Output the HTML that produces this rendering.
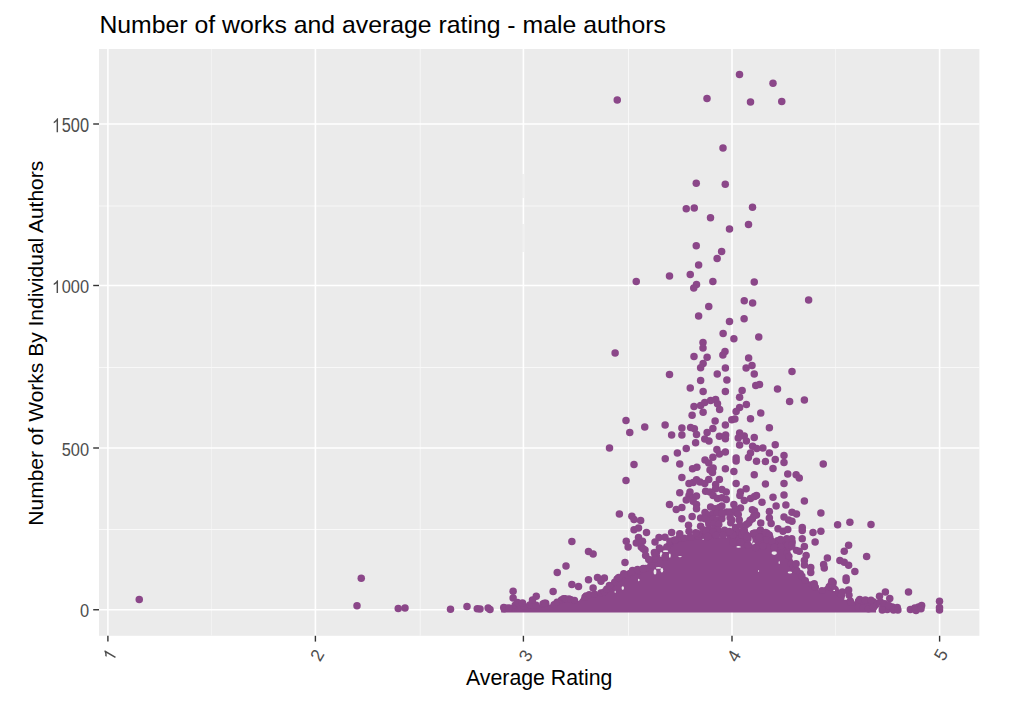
<!DOCTYPE html>
<html><head><meta charset="utf-8"><title>Number of works and average rating - male authors</title>
<style>
html,body{margin:0;padding:0;background:#fff;}
body{width:1024px;height:705px;overflow:hidden;position:relative;font-family:"Liberation Sans",sans-serif;}
svg{position:absolute;left:0;top:0;}
text{font-family:"Liberation Sans",sans-serif;}
</style></head><body>
<svg width="1024" height="705" viewBox="0 0 1024 705">
<rect x="0" y="0" width="1024" height="705" fill="#ffffff"/>
<rect x="99" y="49" width="880.4" height="586.8" fill="#ebebeb"/>
<g stroke-width="1">
<line x1="211.5" y1="49" x2="211.5" y2="635.8" stroke="#f2f2f2"/>
<line x1="420.25" y1="49" x2="420.25" y2="635.8" stroke="#f6f6f6"/>
<line x1="628.5" y1="49" x2="628.5" y2="635.8" stroke="#f8f8f8"/>
<line x1="835.5" y1="49" x2="835.5" y2="635.8" stroke="#f4f4f4"/>
<line x1="99" y1="206.0" x2="979.4" y2="206.0" stroke="#f7f7f7"/>
<line x1="99" y1="367.5" x2="979.4" y2="367.5" stroke="#f8f8f8"/>
<line x1="99" y1="529.5" x2="979.4" y2="529.5" stroke="#f9f9f9"/>
</g>
<g stroke="#ffffff" stroke-width="1.6">
<line x1="107.90" y1="49" x2="107.90" y2="635.8"/>
<line x1="315.40" y1="49" x2="315.40" y2="635.8"/>
<line x1="523.40" y1="49" x2="523.40" y2="635.8"/>
<line x1="732.00" y1="49" x2="732.00" y2="635.8"/>
<line x1="939.60" y1="49" x2="939.60" y2="635.8"/>
<line x1="99" y1="609.75" x2="979.4" y2="609.75"/>
<line x1="99" y1="448.00" x2="979.4" y2="448.00"/>
<line x1="99" y1="285.50" x2="979.4" y2="285.50"/>
<line x1="99" y1="124.00" x2="979.4" y2="124.00"/>
</g>
<rect x="522.3" y="174" width="2.6" height="24" fill="#ebebeb"/><line x1="523.8" y1="174" x2="523.8" y2="198" stroke="#f3f3f3" stroke-width="1.3"/>
<rect x="522.3" y="224" width="2.6" height="28" fill="#ebebeb"/><line x1="523.8" y1="224" x2="523.8" y2="252" stroke="#f3f3f3" stroke-width="1.3"/>
<g stroke="#333333" stroke-width="1.4">
<line x1="107.90" y1="635.8" x2="107.90" y2="641.5999999999999"/>
<line x1="315.40" y1="635.8" x2="315.40" y2="641.5999999999999"/>
<line x1="523.40" y1="635.8" x2="523.40" y2="641.5999999999999"/>
<line x1="732.00" y1="635.8" x2="732.00" y2="641.5999999999999"/>
<line x1="939.60" y1="635.8" x2="939.60" y2="641.5999999999999"/>
<line x1="93.2" y1="609.75" x2="99" y2="609.75"/>
<line x1="93.2" y1="448.00" x2="99" y2="448.00"/>
<line x1="93.2" y1="285.50" x2="99" y2="285.50"/>
<line x1="93.2" y1="124.00" x2="99" y2="124.00"/>
</g>
<g fill="#4d4d4d" font-size="16.4" text-anchor="end">
<text transform="translate(89.0,610.95) scale(1,1.08)" x="0" y="5.9">0</text>
<text transform="translate(89.0,449.20) scale(1,1.08)" x="0" y="5.9">500</text>
<g transform="translate(89.0,286.70) scale(1,1.08)"><text x="0" y="5.9">000</text><path transform="translate(-37.07,5.90) scale(0.008008,-0.008008)" d="M763 0H583V1147Q518 1085 412.5 1023T223 930V1104Q374 1175 487 1276T647 1472H763V0Z"/></g>
<g transform="translate(89.0,125.20) scale(1,1.2)"><text x="0" y="5.9">500</text><path transform="translate(-37.07,5.90) scale(0.008008,-0.008008)" d="M763 0H583V1147Q518 1085 412.5 1023T223 930V1104Q374 1175 487 1276T647 1472H763V0Z"/></g>
</g>
<g fill="#4d4d4d" font-size="16.4" text-anchor="middle">
<g transform="translate(109.50,655.00) rotate(-60) scale(1.08)"><path transform="translate(-4.56,5.90) scale(0.008008,-0.008008)" d="M763 0H583V1147Q518 1085 412.5 1023T223 930V1104Q374 1175 487 1276T647 1472H763V0Z"/></g>
<text transform="translate(317.00,655.00) rotate(-60) scale(1.08)" x="0" y="5.9">2</text>
<text transform="translate(525.50,655.50) rotate(-60) scale(1.08)" x="0" y="5.9">3</text>
<text transform="translate(733.60,655.70) rotate(-60) scale(1.08)" x="0" y="5.9">4</text>
<text transform="translate(940.60,654.60) rotate(-60) scale(1.08)" x="0" y="5.9">5</text>
</g>
<text x="99.4" y="33.3" font-size="24.8" fill="#000000">Number of works and average rating - male authors</text>
<text x="539.2" y="685.2" font-size="21.3" fill="#000000" text-anchor="middle">Average Rating</text>
<text transform="translate(42.9,343.2) rotate(-90)" font-size="21.0" fill="#000000" text-anchor="middle">Number of Works By Individual Authors</text>
<clipPath id="pc"><rect x="99" y="49" width="880.4" height="586.8"/></clipPath>
<g fill="#8b4789" clip-path="url(#pc)">
<polygon points="501.2,610.2 503.8,607.4 511.2,607.2 515.0,603.7 522.5,603.7 527.5,604.7 531.2,602.2 538.8,604.7 545.0,602.2 550.0,604.7 555.0,601.0 561.2,598.4 567.5,597.2 573.8,598.4 578.8,601.0 582.5,596.0 587.5,592.2 596.2,593.4 600.0,592.2 607.5,586.0 615.0,578.4 630.0,571.0 647.5,566.0 652.5,556.0 658.8,551.0 665.0,544.7 670.0,539.7 675.0,537.2 695.0,536.0 703.8,531.6 716.2,531.0 720.0,533.4 728.0,531.2 743.0,531.7 750.5,533.2 756.8,531.7 769.2,533.2 774.2,539.7 794.2,539.7 795.5,548.4 790.0,551.0 793.0,561.0 799.2,569.7 804.2,576.0 810.5,582.2 816.8,584.7 819.2,591.0 824.2,587.2 831.8,581.6 838.0,587.2 839.2,591.0 845.5,594.7 844.2,599.7 850.5,599.7 856.0,602.2 876.0,603.2 876.0,612.6 501.2,612.6"/><circle cx="504.2" cy="609.0" r="3.6"/><circle cx="506.3" cy="608.0" r="3.6"/><circle cx="509.6" cy="608.4" r="3.6"/><circle cx="513.9" cy="607.5" r="3.6"/><circle cx="515.1" cy="605.0" r="3.6"/><circle cx="519.0" cy="604.4" r="3.6"/><circle cx="523.8" cy="606.0" r="3.6"/><circle cx="529.7" cy="604.8" r="3.6"/><circle cx="532.2" cy="605.0" r="3.6"/><circle cx="536.1" cy="605.2" r="3.6"/><circle cx="542.9" cy="603.9" r="3.6"/><circle cx="545.8" cy="603.2" r="3.6"/><circle cx="544.4" cy="603.0" r="3.6"/><circle cx="554.0" cy="604.7" r="3.6"/><circle cx="557.0" cy="602.0" r="3.6"/><circle cx="561.4" cy="599.8" r="3.6"/><circle cx="563.5" cy="598.6" r="3.6"/><circle cx="565.1" cy="598.6" r="3.6"/><circle cx="569.0" cy="598.8" r="3.6"/><circle cx="570.9" cy="599.5" r="3.6"/><circle cx="574.6" cy="600.3" r="3.6"/><circle cx="584.9" cy="597.2" r="3.6"/><circle cx="586.0" cy="595.8" r="3.6"/><circle cx="589.2" cy="594.6" r="3.6"/><circle cx="594.6" cy="594.2" r="3.6"/><circle cx="600.8" cy="592.8" r="3.6"/><circle cx="604.2" cy="591.8" r="3.6"/><circle cx="606.6" cy="589.2" r="3.6"/><circle cx="610.4" cy="586.4" r="3.6"/><circle cx="614.6" cy="582.0" r="3.6"/><circle cx="617.0" cy="578.8" r="3.6"/><circle cx="619.3" cy="578.3" r="3.6"/><circle cx="622.5" cy="576.4" r="3.6"/><circle cx="627.6" cy="574.9" r="3.6"/><circle cx="629.8" cy="573.3" r="3.6"/><circle cx="631.4" cy="572.5" r="3.6"/><circle cx="638.4" cy="571.1" r="3.6"/><circle cx="643.2" cy="568.4" r="3.6"/><circle cx="645.9" cy="568.3" r="3.6"/><circle cx="650.7" cy="565.3" r="3.6"/><circle cx="652.1" cy="561.2" r="3.6"/><circle cx="654.6" cy="558.8" r="3.6"/><circle cx="654.9" cy="555.9" r="3.6"/><circle cx="659.5" cy="553.7" r="3.6"/><circle cx="661.6" cy="551.0" r="3.6"/><circle cx="666.7" cy="546.9" r="3.6"/><circle cx="670.1" cy="543.5" r="3.6"/><circle cx="670.6" cy="541.7" r="3.6"/><circle cx="673.7" cy="540.4" r="3.6"/><circle cx="679.0" cy="537.7" r="3.6"/><circle cx="679.9" cy="537.8" r="3.6"/><circle cx="684.1" cy="538.0" r="3.6"/><circle cx="689.5" cy="537.3" r="3.6"/><circle cx="691.2" cy="537.5" r="3.6"/><circle cx="698.3" cy="536.3" r="3.6"/><circle cx="705.4" cy="533.0" r="3.6"/><circle cx="706.1" cy="533.1" r="3.6"/><circle cx="710.9" cy="531.9" r="3.6"/><circle cx="716.0" cy="532.9" r="3.6"/><circle cx="717.3" cy="534.4" r="3.6"/><circle cx="722.5" cy="534.1" r="3.6"/><circle cx="725.4" cy="533.7" r="3.6"/><circle cx="728.1" cy="531.8" r="3.6"/><circle cx="732.4" cy="532.1" r="3.6"/><circle cx="736.7" cy="532.1" r="3.6"/><circle cx="739.2" cy="532.3" r="3.6"/><circle cx="742.7" cy="532.9" r="3.6"/><circle cx="746.0" cy="534.5" r="3.6"/><circle cx="753.1" cy="533.4" r="3.6"/><circle cx="755.2" cy="533.3" r="3.6"/><circle cx="758.0" cy="532.6" r="3.6"/><circle cx="763.9" cy="534.9" r="3.6"/><circle cx="766.6" cy="534.3" r="3.6"/><circle cx="767.1" cy="533.0" r="3.6"/><circle cx="770.0" cy="537.3" r="3.6"/><circle cx="777.5" cy="540.5" r="3.6"/><circle cx="778.3" cy="541.9" r="3.6"/><circle cx="784.3" cy="540.5" r="3.6"/><circle cx="788.4" cy="540.2" r="3.6"/><circle cx="792.3" cy="542.0" r="3.6"/><circle cx="790.9" cy="541.8" r="3.6"/><circle cx="791.7" cy="543.5" r="3.6"/><circle cx="796.3" cy="550.3" r="3.6"/><circle cx="786.9" cy="552.6" r="3.6"/><circle cx="789.0" cy="556.3" r="3.6"/><circle cx="791.0" cy="563.7" r="3.6"/><circle cx="793.4" cy="566.6" r="3.6"/><circle cx="795.5" cy="569.3" r="3.6"/><circle cx="796.9" cy="570.5" r="3.6"/><circle cx="800.4" cy="573.5" r="3.6"/><circle cx="802.0" cy="576.2" r="3.6"/><circle cx="805.4" cy="580.5" r="3.6"/><circle cx="812.2" cy="584.5" r="3.6"/><circle cx="814.9" cy="586.6" r="3.6"/><circle cx="814.8" cy="586.7" r="3.6"/><circle cx="815.4" cy="587.5" r="3.6"/><circle cx="822.0" cy="590.5" r="3.6"/><circle cx="829.1" cy="586.7" r="3.6"/><circle cx="833.3" cy="582.7" r="3.6"/><circle cx="831.0" cy="584.3" r="3.6"/><circle cx="832.6" cy="585.3" r="3.6"/><circle cx="835.2" cy="589.7" r="3.6"/><circle cx="839.8" cy="593.3" r="3.6"/><circle cx="840.8" cy="594.5" r="3.6"/><circle cx="849.1" cy="595.2" r="3.6"/><circle cx="850.3" cy="600.9" r="3.6"/><circle cx="850.9" cy="602.5" r="3.6"/><circle cx="858.7" cy="603.1" r="3.6"/><circle cx="860.4" cy="603.2" r="3.6"/><circle cx="867.4" cy="604.7" r="3.6"/><circle cx="868.4" cy="604.8" r="3.6"/><circle cx="875.7" cy="604.9" r="3.6"/>
<g fill="#ebebeb"><ellipse cx="661.2" cy="554.4" rx="1.3" ry="2.5"/><ellipse cx="665.6" cy="551.2" rx="2.7" ry="0.9"/><ellipse cx="669.8" cy="555.6" rx="0.9" ry="2.2"/><ellipse cx="655.0" cy="571.9" rx="1.4" ry="2.7"/><ellipse cx="661.9" cy="570.2" rx="1.3" ry="2.2"/><ellipse cx="658.5" cy="567.9" rx="2.7" ry="0.9"/><ellipse cx="622.8" cy="588.1" rx="1.2" ry="1.8"/><ellipse cx="638.8" cy="580.0" rx="0.8" ry="1.3"/><ellipse cx="615.2" cy="591.9" rx="0.6" ry="1.1"/><ellipse cx="680.0" cy="556.6" rx="1.8" ry="0.7"/><ellipse cx="673.8" cy="539.4" rx="1.8" ry="1.6"/><ellipse cx="695.0" cy="533.8" rx="0.9" ry="1.6"/><ellipse cx="703.1" cy="539.4" rx="0.6" ry="0.6"/><ellipse cx="720.0" cy="535.6" rx="0.6" ry="2.0"/><ellipse cx="726.2" cy="536.9" rx="0.8" ry="0.6"/><ellipse cx="750.5" cy="540.6" rx="2.0" ry="3.4"/><ellipse cx="748.0" cy="537.5" rx="1.6" ry="1.1"/><ellipse cx="753.6" cy="543.8" rx="1.3" ry="1.3"/><ellipse cx="774.2" cy="553.1" rx="2.7" ry="1.8"/><ellipse cx="789.9" cy="572.5" rx="2.2" ry="1.1"/><ellipse cx="779.2" cy="562.5" rx="0.6" ry="1.6"/><ellipse cx="758.6" cy="571.0" rx="0.5" ry="0.9"/><ellipse cx="765.5" cy="534.4" rx="2.2" ry="0.8"/><ellipse cx="738.6" cy="546.9" rx="2.2" ry="0.8"/><ellipse cx="834.2" cy="590.4" rx="0.9" ry="0.6"/></g>
<circle cx="617.25" cy="100.0" r="3.75"/><circle cx="707.0" cy="98.5" r="3.75"/><circle cx="739.5" cy="74.5" r="3.75"/><circle cx="773.0" cy="83.25" r="3.75"/><circle cx="750.5" cy="102.0" r="3.75"/><circle cx="781.75" cy="101.5" r="3.75"/><circle cx="723.0" cy="148.0" r="3.75"/><circle cx="696.25" cy="183.25" r="3.75"/><circle cx="725.25" cy="184.25" r="3.75"/><circle cx="686.25" cy="208.75" r="3.75"/><circle cx="694.25" cy="208.0" r="3.75"/><circle cx="752.5" cy="207.25" r="3.75"/><circle cx="710.5" cy="217.75" r="3.75"/><circle cx="748.5" cy="224.5" r="3.75"/><circle cx="729.5" cy="229.0" r="3.75"/><circle cx="696.25" cy="245.75" r="3.75"/><circle cx="721.62" cy="251.5" r="3.75"/><circle cx="717.12" cy="258.5" r="3.75"/><circle cx="698.62" cy="265.12" r="3.75"/><circle cx="690.25" cy="274.62" r="3.75"/><circle cx="669.5" cy="276.0" r="3.75"/><circle cx="636.25" cy="281.62" r="3.75"/><circle cx="712.88" cy="281.62" r="3.75"/><circle cx="696.5" cy="284.62" r="3.75"/><circle cx="693.75" cy="288.12" r="3.75"/><circle cx="708.75" cy="306.5" r="3.75"/><circle cx="754.25" cy="281.88" r="3.75"/><circle cx="744.25" cy="300.75" r="3.75"/><circle cx="752.62" cy="302.88" r="3.75"/><circle cx="808.62" cy="300.12" r="3.75"/><circle cx="698.62" cy="315.88" r="3.75"/><circle cx="723.12" cy="333.38" r="3.75"/><circle cx="703.0" cy="342.5" r="3.75"/><circle cx="703.0" cy="347.88" r="3.75"/><circle cx="615.12" cy="352.88" r="3.75"/><circle cx="725.0" cy="351.5" r="3.75"/><circle cx="722.88" cy="355.0" r="3.75"/><circle cx="694.0" cy="356.38" r="3.75"/><circle cx="707.12" cy="357.25" r="3.75"/><circle cx="703.12" cy="363.38" r="3.75"/><circle cx="700.62" cy="367.75" r="3.75"/><circle cx="725.38" cy="368.12" r="3.75"/><circle cx="669.5" cy="374.62" r="3.75"/><circle cx="717.25" cy="373.88" r="3.75"/><circle cx="700.62" cy="380.38" r="3.75"/><circle cx="726.88" cy="380.0" r="3.75"/><circle cx="690.25" cy="388.12" r="3.75"/><circle cx="703.12" cy="391.62" r="3.75"/><circle cx="725.38" cy="391.62" r="3.75"/><circle cx="729.5" cy="321.62" r="3.75"/><circle cx="744.12" cy="318.75" r="3.75"/><circle cx="733.88" cy="338.75" r="3.75"/><circle cx="758.75" cy="337.0" r="3.75"/><circle cx="748.62" cy="357.88" r="3.75"/><circle cx="752.0" cy="365.62" r="3.75"/><circle cx="746.12" cy="368.12" r="3.75"/><circle cx="754.25" cy="374.0" r="3.75"/><circle cx="792.0" cy="371.5" r="3.75"/><circle cx="755.75" cy="385.62" r="3.75"/><circle cx="759.5" cy="384.62" r="3.75"/><circle cx="742.12" cy="390.38" r="3.75"/><circle cx="777.5" cy="389.0" r="3.75"/><circle cx="694.0" cy="406.5" r="3.75"/><circle cx="700.62" cy="405.62" r="3.75"/><circle cx="704.75" cy="402.5" r="3.75"/><circle cx="710.62" cy="400.62" r="3.75"/><circle cx="715.62" cy="399.38" r="3.75"/><circle cx="717.5" cy="403.75" r="3.75"/><circle cx="719.62" cy="409.38" r="3.75"/><circle cx="703.12" cy="412.25" r="3.75"/><circle cx="692.12" cy="415.25" r="3.75"/><circle cx="626.0" cy="420.38" r="3.75"/><circle cx="715.12" cy="421.0" r="3.75"/><circle cx="725.38" cy="425.0" r="3.75"/><circle cx="644.75" cy="426.88" r="3.75"/><circle cx="665.12" cy="425.0" r="3.75"/><circle cx="681.88" cy="428.12" r="3.75"/><circle cx="690.62" cy="427.5" r="3.75"/><circle cx="694.38" cy="428.75" r="3.75"/><circle cx="696.5" cy="434.38" r="3.75"/><circle cx="712.88" cy="428.5" r="3.75"/><circle cx="629.75" cy="432.62" r="3.75"/><circle cx="707.12" cy="432.62" r="3.75"/><circle cx="671.62" cy="435.0" r="3.75"/><circle cx="681.88" cy="435.0" r="3.75"/><circle cx="719.38" cy="436.25" r="3.75"/><circle cx="725.62" cy="435.0" r="3.75"/><circle cx="725.38" cy="438.75" r="3.75"/><circle cx="704.75" cy="439.0" r="3.75"/><circle cx="709.0" cy="441.0" r="3.75"/><circle cx="695.62" cy="442.75" r="3.75"/><circle cx="609.5" cy="447.88" r="3.75"/><circle cx="686.25" cy="448.38" r="3.75"/><circle cx="716.88" cy="449.38" r="3.75"/><circle cx="719.38" cy="454.0" r="3.75"/><circle cx="725.38" cy="451.88" r="3.75"/><circle cx="677.38" cy="452.88" r="3.75"/><circle cx="712.88" cy="457.25" r="3.75"/><circle cx="665.25" cy="458.75" r="3.75"/><circle cx="705.0" cy="460.0" r="3.75"/><circle cx="708.75" cy="463.12" r="3.75"/><circle cx="634.0" cy="464.62" r="3.75"/><circle cx="679.75" cy="464.0" r="3.75"/><circle cx="692.5" cy="468.75" r="3.75"/><circle cx="696.88" cy="467.25" r="3.75"/><circle cx="710.0" cy="470.0" r="3.75"/><circle cx="713.12" cy="468.12" r="3.75"/><circle cx="725.38" cy="468.75" r="3.75"/><circle cx="739.62" cy="397.25" r="3.75"/><circle cx="746.38" cy="404.38" r="3.75"/><circle cx="739.62" cy="407.5" r="3.75"/><circle cx="736.12" cy="411.5" r="3.75"/><circle cx="789.62" cy="401.62" r="3.75"/><circle cx="804.38" cy="400.0" r="3.75"/><circle cx="760.75" cy="413.12" r="3.75"/><circle cx="731.75" cy="419.75" r="3.75"/><circle cx="734.88" cy="419.0" r="3.75"/><circle cx="750.5" cy="418.75" r="3.75"/><circle cx="769.38" cy="427.75" r="3.75"/><circle cx="739.62" cy="433.12" r="3.75"/><circle cx="738.25" cy="438.12" r="3.75"/><circle cx="744.25" cy="436.0" r="3.75"/><circle cx="746.38" cy="441.0" r="3.75"/><circle cx="754.25" cy="437.5" r="3.75"/><circle cx="739.62" cy="445.0" r="3.75"/><circle cx="775.25" cy="444.75" r="3.75"/><circle cx="752.62" cy="446.25" r="3.75"/><circle cx="756.75" cy="448.5" r="3.75"/><circle cx="762.88" cy="447.88" r="3.75"/><circle cx="769.38" cy="452.88" r="3.75"/><circle cx="750.5" cy="453.12" r="3.75"/><circle cx="748.38" cy="457.5" r="3.75"/><circle cx="784.0" cy="455.62" r="3.75"/><circle cx="784.0" cy="462.5" r="3.75"/><circle cx="736.12" cy="458.12" r="3.75"/><circle cx="736.12" cy="461.0" r="3.75"/><circle cx="775.25" cy="459.38" r="3.75"/><circle cx="756.5" cy="461.25" r="3.75"/><circle cx="765.38" cy="461.62" r="3.75"/><circle cx="823.25" cy="464.0" r="3.75"/><circle cx="773.0" cy="468.5" r="3.75"/><circle cx="733.88" cy="471.62" r="3.75"/><circle cx="712.5" cy="472.5" r="3.75"/><circle cx="681.88" cy="477.5" r="3.75"/><circle cx="626.0" cy="480.62" r="3.75"/><circle cx="689.0" cy="483.5" r="3.75"/><circle cx="693.12" cy="482.5" r="3.75"/><circle cx="696.5" cy="479.75" r="3.75"/><circle cx="700.0" cy="481.88" r="3.75"/><circle cx="704.75" cy="483.5" r="3.75"/><circle cx="708.75" cy="479.38" r="3.75"/><circle cx="719.38" cy="479.38" r="3.75"/><circle cx="715.62" cy="484.38" r="3.75"/><circle cx="715.62" cy="488.75" r="3.75"/><circle cx="721.88" cy="489.38" r="3.75"/><circle cx="726.25" cy="491.88" r="3.75"/><circle cx="705.62" cy="491.25" r="3.75"/><circle cx="710.0" cy="491.88" r="3.75"/><circle cx="713.12" cy="495.62" r="3.75"/><circle cx="717.5" cy="498.5" r="3.75"/><circle cx="721.88" cy="497.75" r="3.75"/><circle cx="726.25" cy="499.38" r="3.75"/><circle cx="679.75" cy="492.75" r="3.75"/><circle cx="690.0" cy="491.88" r="3.75"/><circle cx="689.0" cy="495.62" r="3.75"/><circle cx="693.12" cy="497.75" r="3.75"/><circle cx="696.5" cy="496.0" r="3.75"/><circle cx="686.25" cy="500.0" r="3.75"/><circle cx="693.12" cy="501.25" r="3.75"/><circle cx="696.5" cy="504.38" r="3.75"/><circle cx="696.5" cy="508.75" r="3.75"/><circle cx="669.5" cy="504.5" r="3.75"/><circle cx="681.88" cy="507.5" r="3.75"/><circle cx="676.25" cy="509.38" r="3.75"/><circle cx="619.38" cy="514.0" r="3.75"/><circle cx="710.62" cy="506.88" r="3.75"/><circle cx="715.0" cy="508.75" r="3.75"/><circle cx="719.38" cy="507.5" r="3.75"/><circle cx="721.88" cy="506.0" r="3.75"/><circle cx="705.0" cy="512.5" r="3.75"/><circle cx="708.75" cy="515.0" r="3.75"/><circle cx="713.12" cy="513.75" r="3.75"/><circle cx="717.5" cy="513.12" r="3.75"/><circle cx="721.88" cy="515.0" r="3.75"/><circle cx="726.88" cy="511.88" r="3.75"/><circle cx="700.62" cy="518.12" r="3.75"/><circle cx="705.0" cy="518.75" r="3.75"/><circle cx="708.75" cy="521.25" r="3.75"/><circle cx="713.12" cy="518.75" r="3.75"/><circle cx="717.5" cy="520.0" r="3.75"/><circle cx="721.88" cy="518.75" r="3.75"/><circle cx="692.12" cy="516.62" r="3.75"/><circle cx="681.88" cy="518.75" r="3.75"/><circle cx="631.88" cy="516.25" r="3.75"/><circle cx="634.0" cy="519.62" r="3.75"/><circle cx="640.62" cy="520.38" r="3.75"/><circle cx="688.5" cy="525.25" r="3.75"/><circle cx="700.62" cy="526.25" r="3.75"/><circle cx="708.75" cy="523.75" r="3.75"/><circle cx="713.75" cy="523.75" r="3.75"/><circle cx="718.75" cy="524.38" r="3.75"/><circle cx="634.0" cy="529.75" r="3.75"/><circle cx="638.5" cy="528.12" r="3.75"/><circle cx="646.5" cy="532.5" r="3.75"/><circle cx="671.62" cy="532.5" r="3.75"/><circle cx="679.75" cy="533.75" r="3.75"/><circle cx="689.0" cy="531.25" r="3.75"/><circle cx="626.25" cy="541.25" r="3.75"/><circle cx="628.12" cy="546.88" r="3.75"/><circle cx="638.5" cy="537.5" r="3.75"/><circle cx="636.25" cy="543.12" r="3.75"/><circle cx="642.5" cy="541.25" r="3.75"/><circle cx="641.25" cy="546.88" r="3.75"/><circle cx="645.0" cy="550.0" r="3.75"/><circle cx="655.0" cy="541.88" r="3.75"/><circle cx="659.0" cy="537.5" r="3.75"/><circle cx="665.0" cy="537.25" r="3.75"/><circle cx="659.38" cy="548.12" r="3.75"/><circle cx="654.38" cy="552.5" r="3.75"/><circle cx="670.0" cy="541.25" r="3.75"/><circle cx="675.0" cy="540.0" r="3.75"/><circle cx="698.75" cy="533.75" r="3.75"/><circle cx="703.75" cy="530.0" r="3.75"/><circle cx="708.75" cy="529.38" r="3.75"/><circle cx="713.75" cy="529.38" r="3.75"/><circle cx="717.5" cy="530.0" r="3.75"/><circle cx="754.25" cy="474.75" r="3.75"/><circle cx="787.75" cy="474.0" r="3.75"/><circle cx="796.12" cy="474.75" r="3.75"/><circle cx="799.25" cy="477.88" r="3.75"/><circle cx="736.12" cy="483.5" r="3.75"/><circle cx="765.38" cy="484.12" r="3.75"/><circle cx="784.0" cy="483.5" r="3.75"/><circle cx="746.12" cy="488.75" r="3.75"/><circle cx="740.5" cy="491.88" r="3.75"/><circle cx="739.88" cy="495.62" r="3.75"/><circle cx="756.5" cy="495.38" r="3.75"/><circle cx="750.5" cy="498.5" r="3.75"/><circle cx="744.25" cy="500.62" r="3.75"/><circle cx="773.0" cy="497.25" r="3.75"/><circle cx="784.0" cy="495.0" r="3.75"/><circle cx="804.38" cy="500.88" r="3.75"/><circle cx="762.0" cy="502.25" r="3.75"/><circle cx="733.88" cy="504.38" r="3.75"/><circle cx="776.12" cy="506.0" r="3.75"/><circle cx="785.88" cy="505.0" r="3.75"/><circle cx="752.38" cy="509.75" r="3.75"/><circle cx="740.5" cy="508.12" r="3.75"/><circle cx="769.38" cy="511.5" r="3.75"/><circle cx="792.0" cy="512.25" r="3.75"/><circle cx="796.5" cy="514.0" r="3.75"/><circle cx="820.88" cy="513.12" r="3.75"/><circle cx="784.0" cy="516.88" r="3.75"/><circle cx="788.62" cy="520.0" r="3.75"/><circle cx="792.0" cy="521.25" r="3.75"/><circle cx="769.38" cy="518.12" r="3.75"/><circle cx="771.12" cy="523.5" r="3.75"/><circle cx="756.5" cy="515.0" r="3.75"/><circle cx="752.38" cy="518.75" r="3.75"/><circle cx="748.62" cy="523.12" r="3.75"/><circle cx="760.75" cy="522.88" r="3.75"/><circle cx="837.62" cy="524.75" r="3.75"/><circle cx="849.88" cy="522.25" r="3.75"/><circle cx="802.25" cy="527.5" r="3.75"/><circle cx="778.0" cy="528.75" r="3.75"/><circle cx="783.0" cy="531.25" r="3.75"/><circle cx="787.75" cy="529.38" r="3.75"/><circle cx="820.88" cy="531.25" r="3.75"/><circle cx="813.0" cy="532.5" r="3.75"/><circle cx="802.25" cy="538.75" r="3.75"/><circle cx="815.12" cy="541.88" r="3.75"/><circle cx="804.38" cy="546.5" r="3.75"/><circle cx="848.62" cy="545.25" r="3.75"/><circle cx="844.25" cy="551.25" r="3.75"/><circle cx="799.25" cy="551.25" r="3.75"/><circle cx="735.5" cy="512.5" r="3.75"/><circle cx="731.75" cy="520.0" r="3.75"/><circle cx="739.25" cy="520.0" r="3.75"/><circle cx="735.5" cy="527.5" r="3.75"/><circle cx="744.25" cy="530.0" r="3.75"/><circle cx="741.75" cy="535.0" r="3.75"/><circle cx="733.0" cy="535.0" r="3.75"/><circle cx="754.88" cy="533.12" r="3.75"/><circle cx="760.5" cy="530.0" r="3.75"/><circle cx="765.5" cy="532.5" r="3.75"/><circle cx="769.25" cy="535.0" r="3.75"/><circle cx="759.25" cy="537.5" r="3.75"/><circle cx="766.75" cy="540.0" r="3.75"/><circle cx="771.75" cy="541.25" r="3.75"/><circle cx="781.75" cy="541.25" r="3.75"/><circle cx="786.75" cy="538.75" r="3.75"/><circle cx="791.75" cy="538.75" r="3.75"/><circle cx="788.0" cy="545.0" r="3.75"/><circle cx="780.5" cy="546.25" r="3.75"/><circle cx="774.25" cy="547.5" r="3.75"/><circle cx="791.75" cy="545.62" r="3.75"/><circle cx="763.0" cy="546.25" r="3.75"/><circle cx="755.5" cy="547.5" r="3.75"/><circle cx="748.0" cy="545.0" r="3.75"/><circle cx="740.5" cy="542.5" r="3.75"/><circle cx="733.0" cy="542.5" r="3.75"/><circle cx="748.0" cy="538.75" r="3.75"/><circle cx="604.38" cy="578.12" r="3.75"/><circle cx="609.38" cy="585.62" r="3.75"/><circle cx="625.0" cy="562.5" r="3.75"/><circle cx="643.12" cy="548.75" r="3.75"/><circle cx="645.62" cy="555.62" r="3.75"/><circle cx="648.75" cy="559.38" r="3.75"/><circle cx="665.0" cy="556.88" r="3.75"/><circle cx="632.5" cy="570.62" r="3.75"/><circle cx="637.5" cy="569.38" r="3.75"/><circle cx="643.12" cy="569.0" r="3.75"/><circle cx="618.75" cy="577.5" r="3.75"/><circle cx="623.75" cy="573.75" r="3.75"/><circle cx="802.25" cy="530.62" r="3.75"/><circle cx="806.12" cy="555.62" r="3.75"/><circle cx="804.38" cy="560.62" r="3.75"/><circle cx="804.38" cy="565.0" r="3.75"/><circle cx="827.38" cy="558.12" r="3.75"/><circle cx="823.62" cy="564.38" r="3.75"/><circle cx="824.25" cy="568.12" r="3.75"/><circle cx="839.88" cy="560.62" r="3.75"/><circle cx="844.25" cy="562.25" r="3.75"/><circle cx="848.62" cy="565.25" r="3.75"/><circle cx="810.75" cy="567.5" r="3.75"/><circle cx="810.75" cy="572.5" r="3.75"/><circle cx="854.88" cy="571.62" r="3.75"/><circle cx="846.12" cy="578.12" r="3.75"/><circle cx="846.12" cy="580.62" r="3.75"/><circle cx="848.62" cy="590.0" r="3.75"/><circle cx="842.38" cy="591.88" r="3.75"/><circle cx="780.5" cy="539.38" r="3.75"/><circle cx="796.12" cy="563.75" r="3.75"/><circle cx="814.25" cy="583.75" r="3.75"/><circle cx="831.75" cy="581.25" r="3.75"/><circle cx="866.62" cy="556.62" r="3.75"/><circle cx="885.38" cy="591.88" r="3.75"/><circle cx="908.5" cy="592.12" r="3.75"/><circle cx="879.5" cy="596.25" r="3.75"/><circle cx="889.75" cy="598.5" r="3.75"/><circle cx="939.5" cy="601.25" r="3.75"/><circle cx="939.5" cy="607.5" r="3.75"/><circle cx="939.5" cy="610.0" r="3.75"/><circle cx="858.5" cy="601.25" r="3.75"/><circle cx="863.5" cy="602.5" r="3.75"/><circle cx="868.5" cy="603.12" r="3.75"/><circle cx="873.5" cy="601.88" r="3.75"/><circle cx="858.5" cy="607.5" r="3.75"/><circle cx="863.5" cy="608.12" r="3.75"/><circle cx="868.5" cy="608.75" r="3.75"/><circle cx="873.5" cy="607.5" r="3.75"/><circle cx="880.38" cy="601.88" r="3.75"/><circle cx="882.88" cy="606.25" r="3.75"/><circle cx="887.25" cy="609.38" r="3.75"/><circle cx="892.25" cy="606.88" r="3.75"/><circle cx="897.25" cy="607.5" r="3.75"/><circle cx="910.38" cy="609.38" r="3.75"/><circle cx="914.75" cy="608.12" r="3.75"/><circle cx="918.5" cy="606.88" r="3.75"/><circle cx="921.62" cy="605.62" r="3.75"/><circle cx="571.88" cy="541.5" r="3.75"/><circle cx="588.5" cy="551.5" r="3.75"/><circle cx="593.12" cy="554.0" r="3.75"/><circle cx="566.0" cy="566.0" r="3.75"/><circle cx="557.25" cy="572.5" r="3.75"/><circle cx="588.5" cy="579.75" r="3.75"/><circle cx="597.5" cy="577.5" r="3.75"/><circle cx="601.0" cy="581.25" r="3.75"/><circle cx="571.88" cy="584.38" r="3.75"/><circle cx="578.5" cy="586.5" r="3.75"/><circle cx="593.12" cy="588.12" r="3.75"/><circle cx="553.12" cy="591.5" r="3.75"/><circle cx="513.12" cy="591.25" r="3.75"/><circle cx="513.12" cy="598.12" r="3.75"/><circle cx="488.12" cy="608.12" r="3.75"/><circle cx="490.0" cy="609.38" r="3.75"/><circle cx="480.0" cy="609.0" r="3.75"/><circle cx="536.25" cy="596.25" r="3.75"/><circle cx="532.5" cy="600.0" r="3.75"/><circle cx="503.75" cy="607.5" r="3.75"/><circle cx="508.75" cy="608.12" r="3.75"/><circle cx="517.5" cy="602.5" r="3.75"/><circle cx="522.5" cy="603.12" r="3.75"/><circle cx="139.25" cy="599.5" r="3.75"/><circle cx="361.25" cy="578.25" r="3.75"/><circle cx="357.0" cy="605.75" r="3.75"/><circle cx="398.25" cy="608.5" r="3.75"/><circle cx="405.0" cy="608.0" r="3.75"/><circle cx="450.5" cy="609.25" r="3.75"/><circle cx="467.0" cy="606.5" r="3.75"/><circle cx="477.25" cy="608.75" r="3.75"/><circle cx="871.0" cy="524.5" r="3.75"/><circle cx="884.75" cy="603.75" r="3.75"/><circle cx="888.75" cy="605.38" r="3.75"/><circle cx="893.5" cy="610.0" r="3.75"/><circle cx="897.88" cy="610.0" r="3.75"/><circle cx="882.25" cy="610.0" r="3.75"/><circle cx="916.0" cy="610.62" r="3.75"/><circle cx="921.0" cy="608.75" r="3.75"/><circle cx="859.75" cy="599.38" r="3.75"/><circle cx="865.38" cy="600.0" r="3.75"/><circle cx="871.0" cy="600.25" r="3.75"/><circle cx="754.5" cy="496.5" r="3.75"/><circle cx="754.5" cy="510.88" r="3.75"/><circle cx="722.0" cy="512.75" r="3.75"/><circle cx="730.12" cy="512.12" r="3.75"/><circle cx="735.12" cy="509.62" r="3.75"/><circle cx="730.12" cy="517.75" r="3.75"/><circle cx="738.25" cy="514.62" r="3.75"/><circle cx="730.75" cy="522.75" r="3.75"/><circle cx="740.12" cy="525.25" r="3.75"/><circle cx="753.88" cy="515.88" r="3.75"/><circle cx="750.12" cy="520.25" r="3.75"/><circle cx="746.38" cy="524.62" r="3.75"/><circle cx="706.38" cy="531.5" r="3.75"/><circle cx="713.25" cy="532.12" r="3.75"/><circle cx="716.38" cy="535.25" r="3.75"/><circle cx="707.62" cy="536.5" r="3.75"/><circle cx="724.5" cy="530.25" r="3.75"/><circle cx="729.5" cy="531.5" r="3.75"/><circle cx="723.25" cy="535.25" r="3.75"/><circle cx="744.5" cy="532.75" r="3.75"/><circle cx="747.0" cy="536.5" r="3.75"/><circle cx="695.75" cy="532.75" r="3.75"/>
</g>
</svg>
</body></html>
